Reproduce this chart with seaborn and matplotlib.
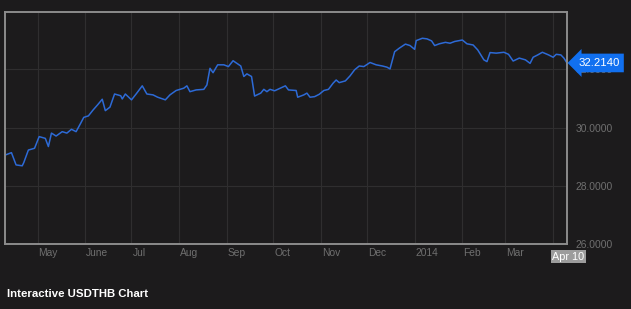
import matplotlib
matplotlib.use("Agg")
import matplotlib.pyplot as plt
import matplotlib.transforms as mtransforms
import seaborn as sns
import pandas as pd

# ---- data ----
dates = [
    "2013-04-10", "2013-04-14", "2013-04-17", "2013-04-21", "2013-04-22", "2013-04-25", "2013-04-29",
    "2013-05-02", "2013-05-06", "2013-05-08", "2013-05-10", "2013-05-13", "2013-05-17", "2013-05-20",
    "2013-05-23", "2013-05-26", "2013-05-29", "2013-05-31", "2013-06-03", "2013-06-06", "2013-06-09",
    "2013-06-12", "2013-06-14", "2013-06-17", "2013-06-20", "2013-06-24", "2013-06-25", "2013-06-27",
    "2013-07-01", "2013-07-04", "2013-07-08", "2013-07-11", "2013-07-15", "2013-07-18", "2013-07-23",
    "2013-07-26", "2013-07-30", "2013-08-04", "2013-08-06", "2013-08-08", "2013-08-12", "2013-08-17",
    "2013-08-19", "2013-08-21", "2013-08-23", "2013-08-26", "2013-08-30", "2013-09-02", "2013-09-05",
    "2013-09-10", "2013-09-12", "2013-09-14", "2013-09-17", "2013-09-19", "2013-09-23", "2013-09-25",
    "2013-09-27", "2013-09-29", "2013-10-02", "2013-10-09", "2013-10-11", "2013-10-16", "2013-10-17",
    "2013-10-21", "2013-10-23", "2013-10-25", "2013-10-28", "2013-10-31", "2013-11-03", "2013-11-06",
    "2013-11-09", "2013-11-11", "2013-11-13", "2013-11-17", "2013-11-20", "2013-11-23", "2013-11-26",
    "2013-11-29", "2013-12-03", "2013-12-07", "2013-12-11", "2013-12-14", "2013-12-16", "2013-12-19",
    "2013-12-22", "2013-12-26", "2013-12-29", "2014-01-01", "2014-01-02", "2014-01-06", "2014-01-09",
    "2014-01-12", "2014-01-14", "2014-01-17", "2014-01-21", "2014-01-24", "2014-01-27", "2014-02-01",
    "2014-02-04", "2014-02-08", "2014-02-11", "2014-02-15", "2014-02-17", "2014-02-19", "2014-02-23",
    "2014-02-28", "2014-03-03", "2014-03-06", "2014-03-10", "2014-03-14", "2014-03-17", "2014-03-19",
    "2014-03-22", "2014-03-25", "2014-03-29", "2014-04-01", "2014-04-03", "2014-04-06", "2014-04-08",
    "2014-04-10",
]
rates = [
    29.06, 29.14, 28.72, 28.69, 28.80, 29.23, 29.29,
    29.69, 29.63, 29.35, 29.81, 29.71, 29.86, 29.81,
    29.94, 29.86, 30.15, 30.35, 30.40, 30.60, 30.78,
    30.97, 30.58, 30.70, 31.15, 31.09, 30.98, 31.15,
    30.95, 31.15, 31.43, 31.15, 31.12, 31.04, 30.95,
    31.12, 31.27, 31.35, 31.43, 31.23, 31.29, 31.31,
    31.46, 32.03, 31.88, 32.15, 32.15, 32.09, 32.29,
    32.11, 31.75, 31.84, 31.75, 31.08, 31.18, 31.31,
    31.23, 31.31, 31.26, 31.43, 31.29, 31.27, 31.04,
    31.12, 31.18, 31.04, 31.06, 31.14, 31.27, 31.31,
    31.52, 31.63, 31.54, 31.60, 31.77, 31.98, 32.11,
    32.09, 32.23, 32.15, 32.11, 32.07, 32.01, 32.60,
    32.72, 32.86, 32.81, 32.68, 32.98, 33.06, 33.04,
    32.97, 32.81, 32.87, 32.92, 32.89, 32.95, 33.00,
    32.87, 32.83, 32.66, 32.32, 32.26, 32.57, 32.55,
    32.58, 32.51, 32.28, 32.38, 32.32, 32.20, 32.41,
    32.49, 32.58, 32.49, 32.41, 32.51, 32.49, 32.38,
    32.214,
]
month_ticks = ["2013-05-01", "2013-06-01", "2013-07-01", "2013-08-01", "2013-09-01",
               "2013-10-01", "2013-11-01", "2013-12-01", "2014-01-01", "2014-02-01",
               "2014-03-01", "2014-04-01"]
month_labels = ["May", "June", "Jul", "Aug", "Sep", "Oct", "Nov", "Dec", "2014",
                "Feb", "Mar", ""]
y_ticks = [26, 28, 30, 32]
y_labels = ["26.0000", "28.0000", "30.0000", "32.0000"]
title = "Interactive USDTHB Chart"
last_date_label = "Apr 10"
last_value_label = "32.2140"

df = pd.DataFrame({"date": pd.to_datetime(dates), "rate": rates})

BG = "#1c1b1c"
GRID = "#2f2e2f"
TICK = "#6f6f6f"
LINE = "#2d6ad6"

sns.set_theme(style="dark", rc={
    "figure.facecolor": BG, "axes.facecolor": BG,
    "axes.edgecolor": "#8c8c8c", "axes.linewidth": 1.4,
    "grid.color": GRID, "grid.linewidth": 0.8,
})
plt.rcParams["font.family"] = ["Liberation Sans", "DejaVu Sans"]

fig = plt.figure(figsize=(6.31, 3.09), dpi=100)
ax = fig.add_axes([5.3 / 631, 1 - 244.3 / 309, (567 - 5.3) / 631, (244.3 - 12) / 309])

sns.lineplot(data=df, x="date", y="rate", ax=ax, color=LINE, linewidth=1.1)

ax.set_xlim(df["date"].iloc[0], df["date"].iloc[-1])
ax.set_ylim(26, 33.96)
ax.set_xlabel("")
ax.set_ylabel("")

ax.set_xticks(pd.to_datetime(month_ticks))
ax.set_xticklabels(month_labels)
ax.set_yticks(y_ticks)
ax.set_yticklabels(y_labels)
ax.yaxis.tick_right()
ax.grid(True, axis="both", color=GRID, linewidth=0.8)
ax.tick_params(axis="both", length=0, colors=TICK, labelsize=7.4)
ax.tick_params(axis="x", pad=3)
ax.tick_params(axis="y", pad=6)
for lab in ax.get_yticklabels():
    lab.set_ha("left")
    lab.set_zorder(1)
off = mtransforms.ScaledTranslation(1 / 100, 0, fig.dpi_scale_trans)
for lab in ax.get_xticklabels():
    lab.set_ha("left")
    lab.set_transform(lab.get_transform() + off)

for s in ax.spines.values():
    s.set_color("#8c8c8c")
    s.set_linewidth(1.4)

# last value marker label
last_d = df["date"].iloc[-1]
last_v = df["rate"].iloc[-1]
ax.annotate(last_value_label, xy=(last_d, last_v), xytext=(8, 0), textcoords="offset points",
            ha="left", va="center", color="white", fontsize=8.2, annotation_clip=False,
            zorder=10,
            bbox=dict(boxstyle="larrow,pad=0.38", fc="#1170f0", ec="none"))

# last date label
ax.annotate(last_date_label, xy=(last_d, 0), xycoords=("data", "axes fraction"),
            xytext=(1, -9), textcoords="offset points", ha="center", va="center",
            color="white", fontsize=7.8, annotation_clip=False, zorder=10,
            bbox=dict(boxstyle="square,pad=0.15", fc="#9c9c9c", ec="none"))

fig.text(7 / 631, 1 - 294 / 309, title, ha="left", va="center", color="white",
         fontsize=8.2, fontweight="bold")

fig.savefig("out.png", dpi=100, facecolor=BG)
